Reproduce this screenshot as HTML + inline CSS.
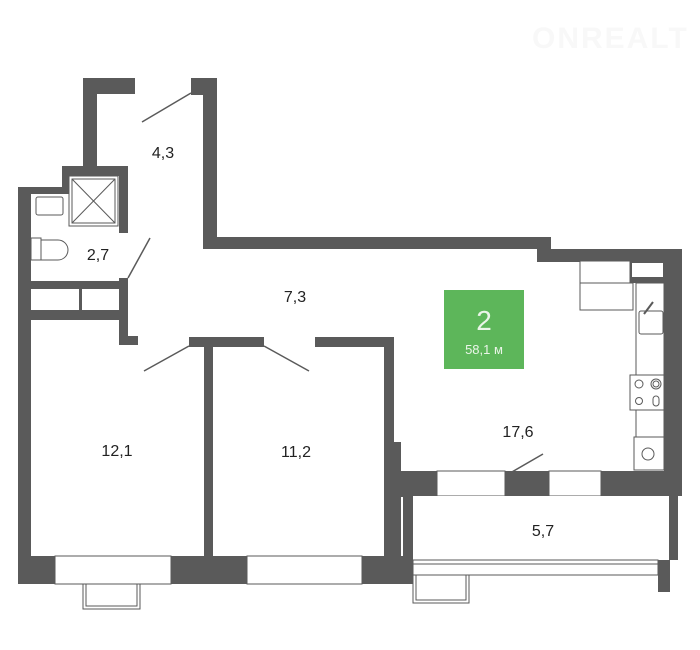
<!DOCTYPE html>
<html><head><meta charset="utf-8"><style>
html,body{margin:0;padding:0;background:#fff;width:700px;height:650px;overflow:hidden}
text{font-family:"Liberation Sans","DejaVu Sans",sans-serif}
</style></head><body>
<svg width="700" height="650" viewBox="0 0 700 650" xmlns="http://www.w3.org/2000/svg">
<rect width="700" height="650" fill="#fff"/>
<text x="532" y="48" font-size="30" font-weight="bold" fill="#f8f8f8" letter-spacing="2">ONREALT</text>
<g fill="#5a5a5a">
<rect x="83" y="78" width="52" height="16"/>
<rect x="83" y="78" width="14" height="90"/>
<rect x="191" y="78" width="26" height="17"/>
<rect x="203" y="78" width="14" height="171"/>
<rect x="203" y="237" width="348" height="12"/>
<rect x="537" y="237" width="14" height="25"/>
<rect x="537" y="249" width="145" height="13"/>
<rect x="664" y="249" width="18" height="247"/>
<rect x="62" y="166" width="66" height="10"/>
<rect x="62" y="166" width="8" height="27"/>
<rect x="119" y="166" width="9" height="67"/>
<rect x="18" y="187" width="52" height="7"/>
<rect x="18" y="187" width="13" height="397"/>
<rect x="31" y="281" width="97" height="8"/>
<rect x="31" y="310" width="97" height="10"/>
<rect x="79" y="289" width="3" height="21"/>
<rect x="119" y="278" width="9" height="67"/>
<rect x="119" y="336" width="19" height="9"/>
<rect x="189" y="337" width="75" height="10"/>
<rect x="204" y="337" width="9" height="247"/>
<rect x="315" y="337" width="79" height="10"/>
<rect x="384" y="337" width="10" height="247"/>
<rect x="384" y="442" width="17" height="142"/>
<rect x="400" y="471" width="20" height="26"/>
<rect x="18" y="556" width="395" height="28"/>
<rect x="400" y="471" width="282" height="25"/>
<rect x="630" y="261" width="34" height="22"/>
<rect x="403" y="496" width="10" height="88"/>
<rect x="669" y="496" width="9" height="64"/>
<rect x="658" y="560" width="12" height="32"/>
</g>
<g fill="#fff" stroke="#5a5a5a" stroke-width="1">
<rect x="55" y="556" width="116" height="28"/>
<rect x="247" y="556" width="115" height="28"/>
<rect x="437" y="471" width="68" height="25"/>
<rect x="549" y="471" width="52" height="25"/>
<rect x="413" y="496" width="256" height="64" stroke="none"/>
<rect x="413" y="560" width="245" height="15"/>
<line x1="413" y1="564" x2="658" y2="564"/>
<rect x="413" y="575" width="56" height="28"/>
<rect x="416" y="575" width="50" height="25"/>
<rect x="83" y="584" width="57" height="25"/>
<rect x="86" y="584" width="51" height="22"/>
<rect x="31" y="289" width="48" height="21" stroke="none"/>
<rect x="82" y="289" width="37" height="21" stroke="none"/>
<rect x="580" y="261" width="50" height="22"/>
<rect x="632" y="263" width="31" height="14" stroke="none"/>
<polyline points="580,283 633,283 633,310 580,310 580,283" fill="#fff"/>
<rect x="636" y="283" width="28" height="187"/>
<rect x="639" y="311" width="24" height="23" rx="2"/>
<rect x="630" y="375" width="34" height="35"/>
<circle cx="639" cy="384" r="4"/><circle cx="656" cy="384" r="5"/><circle cx="656" cy="384" r="3"/>
<circle cx="639" cy="401" r="3.5"/><rect x="653" y="396" width="6" height="10" rx="3"/>
<rect x="634" y="437" width="30" height="33"/>
<circle cx="648" cy="454" r="6"/>
<rect x="69" y="176" width="49" height="50"/>
<rect x="72" y="179" width="43" height="44"/>
<line x1="72" y1="179" x2="115" y2="223"/><line x1="115" y1="179" x2="72" y2="223"/>
<rect x="36" y="197" width="27" height="18" rx="2"/>
<rect x="31" y="238" width="10" height="22"/>
<path d="M41,240 H58 A10,10 0 0 1 58,260 H41 Z"/>
</g>
<g stroke="#5a5a5a" stroke-width="1.5" fill="none">
<line x1="191" y1="93" x2="142" y2="122"/>
<line x1="128" y1="278" x2="150" y2="238"/>
<line x1="189" y1="346" x2="144" y2="371"/>
<line x1="264" y1="346" x2="309" y2="371"/>
<line x1="505" y1="476" x2="543" y2="454"/>
<line x1="644" y1="314" x2="653" y2="302" stroke-width="2"/>
</g>
<rect x="444" y="290" width="80" height="79" fill="#5db65a"/>
<text x="484" y="330" font-size="28" fill="#eaf5e8" text-anchor="middle">2</text>
<text x="484" y="354" font-size="13" fill="#eaf5e8" text-anchor="middle">58,1 м</text>
<g font-size="16" fill="#222" text-anchor="middle">
<text x="163" y="158">4,3</text>
<text x="98" y="260">2,7</text>
<text x="295" y="302">7,3</text>
<text x="117" y="456">12,1</text>
<text x="296" y="457">11,2</text>
<text x="518" y="437">17,6</text>
<text x="543" y="536">5,7</text>
</g>
</svg>
</body></html>
